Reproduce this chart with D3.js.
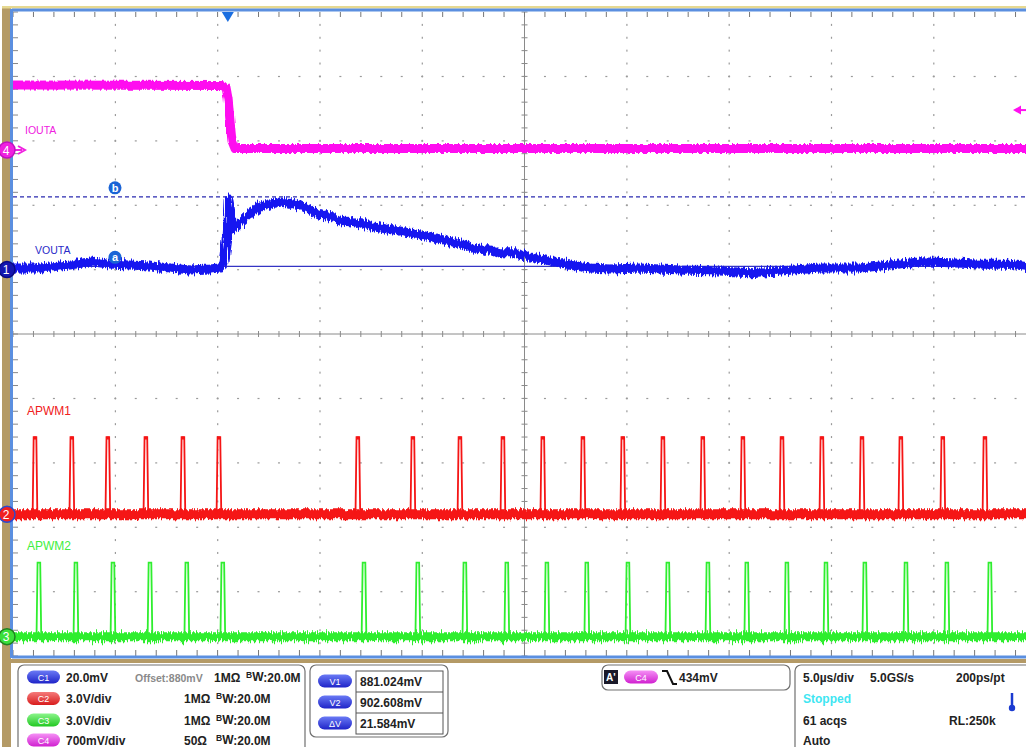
<!DOCTYPE html>
<html><head><meta charset="utf-8">
<script src="https://cdn.jsdelivr.net/npm/d3@7"></script>
<style>
html,body{margin:0;padding:0;background:#fff;}
svg{display:block;font-family:"Liberation Sans",Arial,sans-serif;}
</style></head>
<body><svg id="c" width="1026" height="747"></svg>
<script>
// ---------- DATA ----------
// time in µs from left edge of screen (5 µs/div, 10 div)
const timeDomain = [0, 50];
const triggerTime = 10.5;

// VOUTA (channel 1), mV
const voutaT  = [0,1.32,2.79,3.76,4.74,5.72,6.69,7.67,8.65,9.63,10.12,10.31,10.46,10.56,10.65,10.75,10.95,11.34,12.07,13.05,14.03,15.00,15.98,16.96,17.94,18.91,19.89,20.87,21.85,22.83,23.80,24.54,25.27,26.25,27.23,28.20,29.18,30.65,32.60,34.56,36.02,37.49,39.44,41.40,42.86,44.33,45.80,47.26,48.73,50.00];
const voutaMV = [880.5,880.5,881.4,882.4,881.7,881.4,881.1,880.5,879.9,880.2,880.5,882.4,889.2,901.6,898.5,892.6,893.8,896.0,899.8,901.0,900.1,897.3,895.4,894.2,892.9,892.0,890.8,889.5,888.0,886.4,885.2,885.2,883.9,882.7,881.4,880.5,880.2,880.5,879.9,879.6,879.0,879.6,880.5,880.5,881.4,882.4,882.1,881.7,881.7,880.5];

// IOUTA (channel 4), mV
const ioutaT  = [0, 10.21, 10.41, 10.51, 10.60, 10.70, 10.85, 50];
const ioutaMV = [706, 702, 680, 560, 330, 100, 15, 15];

// APWM1 (channel 2) pulse centres (µs) and high level (V)
const apwm1PulseT = [1.08,2.88,4.64,6.50,8.31,10.07,16.86,19.55,21.85,23.95,25.90,27.86,29.81,31.77,33.72,35.68,37.59,39.54,41.50,43.40,45.45,47.51];
const apwm1High = 3.6;
// APWM2 (channel 3)
const apwm2PulseT = [1.27,3.08,4.89,6.70,8.50,10.26,17.16,19.79,22.09,24.14,26.10,28.05,30.06,32.01,33.97,35.87,37.83,39.74,41.64,43.65,45.65,47.75];
const apwm2High = 3.45;

// cursors (ch1, mV) and trigger level (ch4, mV)
const cursorA = 881.024, cursorB = 902.608, trigLevel = 434;

// channel settings: units per div, value at screen centre
const chNames   = ["C1","C2","C3","C4"];
const chPerDiv  = [20, 3.0, 3.0, 700];
const chCenter  = [860, 8.4, 14.1, -2000];

// info panel texts
const chRows = [
  {pill:"C1", scale:"20.0mV", offset:"Offset:880mV", imp:"1MΩ", bw:"W:20.0M"},
  {pill:"C2", scale:"3.0V/div", offset:"", imp:"1MΩ", bw:"W:20.0M"},
  {pill:"C3", scale:"3.0V/div", offset:"", imp:"1MΩ", bw:"W:20.0M"},
  {pill:"C4", scale:"700mV/div", offset:"", imp:"50Ω", bw:"W:20.0M"}
];
const cursorLabels = ["V1","V2","ΔV"];
const cursorValues = ["881.024mV","902.608mV","21.584mV"];
const trigText = "434mV";
const timebase = ["5.0µs/div","5.0GS/s","200ps/pt"];
const acqStatus = ["Stopped","61 acqs","RL:250k","Auto"];

// ---------- DRAW ----------
const svg = d3.select("#c");
const X0 = 13, X1 = 1036, Y0 = 12, Y1 = 656;
const x = d3.scaleLinear().domain(timeDomain).range([X0, X1]);
const yDiv = d3.scaleLinear().domain([-5, 5]).range([Y1, Y0]);
const yCh = (ch, v) => yDiv((v - chCenter[ch]) / chPerDiv[ch]);

const defs = svg.append("defs");
const mkNoise = (id, freq, scale, seed) => {
  const f = defs.append("filter").attr("id", id).attr("filterUnits","userSpaceOnUse")
    .attr("x",0).attr("y",0).attr("width",1026).attr("height",747);
  f.append("feTurbulence").attr("type","fractalNoise").attr("baseFrequency",freq)
    .attr("numOctaves",2).attr("seed",seed).attr("result","n");
  f.append("feDisplacementMap").attr("in","SourceGraphic").attr("in2","n")
    .attr("scale",scale).attr("xChannelSelector","G").attr("yChannelSelector","R");
};
mkNoise("nz1","0.7 0.03",9,3);
mkNoise("nz2","0.6 0.03",7,7);
mkNoise("nz3","0.8 0.03",11,11);
mkNoise("nz4","0.5 0.03",4,5);
defs.append("clipPath").attr("id","plotclip").append("rect")
  .attr("x",X0).attr("y",Y0).attr("width",X1-X0).attr("height",Y1-Y0);
const pillGrad = (id, c1, c2) => {
  const g = defs.append("linearGradient").attr("id",id).attr("x1",0).attr("y1",0).attr("x2",0).attr("y2",1);
  g.append("stop").attr("offset","0%").attr("stop-color",c1);
  g.append("stop").attr("offset","100%").attr("stop-color",c2);
};
pillGrad("gC1","#6a7af5","#1f24c8");
pillGrad("gC2","#f57a7a","#d81c1c");
pillGrad("gC3","#8af58a","#22c822");
pillGrad("gC4","#f590f5","#d020d0");

// frame decoration
svg.append("rect").attr("x",2).attr("y",6).attr("width",9).attr("height",741).attr("fill","#b49a66");
svg.append("rect").attr("x",2).attr("y",6).attr("width",1024).attr("height",2.5).attr("fill","#e6d890");
svg.append("rect").attr("x",X0).attr("y",Y0).attr("width",X1-X0).attr("height",Y1-Y0).attr("fill","#fff");

// grid
const grid = svg.append("g");
const minorX = d3.range(0, 50.001, 1);      // 5 minor per div (1 µs)
const minorY = d3.range(-5, 5.001, 0.2);
const majorX = d3.range(5, 50, 5).filter(t => t !== 25);
const majorY = d3.range(-4, 5, 1).filter(v => v !== 0);
majorX.forEach(t => {
  grid.selectAll(null).data(minorY.slice(1,-1)).enter().append("rect")
    .attr("x", x(t)-0.5).attr("y", d => yDiv(d)-1).attr("width",1.2).attr("height",2)
    .attr("fill","#9a9a9a");
});
majorY.forEach(v => {
  grid.selectAll(null).data(minorX.slice(1,-1)).enter().append("rect")
    .attr("x", d => x(d)-1).attr("y", yDiv(v)-0.5).attr("width",2).attr("height",1.2)
    .attr("fill","#9a9a9a");
});
// centre cross
grid.append("line").attr("x1",x(25)).attr("x2",x(25)).attr("y1",Y0).attr("y2",Y1).attr("stroke","#8a8a8a").attr("stroke-width",1);
grid.append("line").attr("x1",X0).attr("x2",X1).attr("y1",yDiv(0)).attr("y2",yDiv(0)).attr("stroke","#8a8a8a").attr("stroke-width",1);
grid.selectAll(null).data(minorY).enter().append("line")
  .attr("x1",x(25)-3).attr("x2",x(25)+3).attr("y1",d=>yDiv(d)).attr("y2",d=>yDiv(d)).attr("stroke","#8a8a8a");
grid.selectAll(null).data(minorX).enter().append("line")
  .attr("y1",yDiv(0)-3).attr("y2",yDiv(0)+3).attr("x1",d=>x(d)).attr("x2",d=>x(d)).attr("stroke","#8a8a8a");
// border ticks
grid.selectAll(null).data(minorX).enter().append("line")
  .attr("x1",d=>x(d)).attr("x2",d=>x(d)).attr("y1",Y0).attr("y2",Y0+5).attr("stroke","#777");
grid.selectAll(null).data(minorX).enter().append("line")
  .attr("x1",d=>x(d)).attr("x2",d=>x(d)).attr("y1",Y1-6).attr("y2",Y1).attr("stroke","#777");
grid.selectAll(null).data(minorY).enter().append("line")
  .attr("x1",X0).attr("x2",X0+5).attr("y1",d=>yDiv(d)).attr("y2",d=>yDiv(d)).attr("stroke","#888");

// border lines
svg.append("line").attr("x1",X0-1).attr("x2",1026).attr("y1",Y0-2).attr("y2",Y0-2).attr("stroke","#5b8fe0").attr("stroke-width",3);
svg.append("line").attr("x1",X0-1.5).attr("x2",X0-1.5).attr("y1",Y0-3).attr("y2",Y1+2).attr("stroke","#5b8fe0").attr("stroke-width",3);
svg.append("line").attr("x1",X0-1).attr("x2",1026).attr("y1",Y1+1).attr("y2",Y1+1).attr("stroke","#5b8fe0").attr("stroke-width",3);

// cursors
const plot = svg.append("g").attr("clip-path","url(#plotclip)");
plot.append("line").attr("x1",X0).attr("x2",X1).attr("y1",yCh(0,cursorB)).attr("y2",yCh(0,cursorB))
  .attr("stroke","#2a2ab0").attr("stroke-width",1.2).attr("stroke-dasharray","4,3");
plot.append("line").attr("x1",X0).attr("x2",X1).attr("y1",yCh(0,cursorA)).attr("y2",yCh(0,cursorA))
  .attr("stroke","#3434c4").attr("stroke-width",1.3);

// traces
const line = d3.line();
// APWM2 (green)
plot.append("g").attr("filter","url(#nz3)").append("line").attr("x1",X0).attr("x2",X1).attr("y1",yCh(2,0)).attr("y2",yCh(2,0))
  .attr("stroke","#2fee2f").attr("stroke-width",9);
const pulsePath = (ch, t, hi) => line([
  [x(t-0.12), yCh(ch,0)], [x(t-0.07), yCh(ch,hi)], [x(t+0.06), yCh(ch,hi)], [x(t+0.11), yCh(ch,0)]
]);
plot.selectAll(null).data(apwm2PulseT).enter().append("path")
  .attr("d", t => pulsePath(2,t,apwm2High)).attr("fill","none").attr("stroke","#2fee2f").attr("stroke-width",1.8);
// APWM1 (red)
plot.append("g").attr("filter","url(#nz2)").append("line").attr("x1",X0).attr("x2",X1).attr("y1",yCh(1,0)).attr("y2",yCh(1,0))
  .attr("stroke","#f51515").attr("stroke-width",10);
plot.selectAll(null).data(apwm1PulseT).enter().append("path")
  .attr("d", t => pulsePath(1,t,apwm1High)).attr("fill","none").attr("stroke","#f51515").attr("stroke-width",1.8);
plot.selectAll(null).data(apwm1PulseT).enter().append("line")
  .attr("x1", t=>x(t-0.07)).attr("x2", t=>x(t+0.06)).attr("y1", yCh(1,apwm1High)+1).attr("y2", yCh(1,apwm1High)+1)
  .attr("stroke","#f51515").attr("stroke-width",3);
// VOUTA (blue)
plot.append("g").attr("filter","url(#nz1)").append("path")
  .attr("d", line(voutaT.map((t,i)=>[x(t), yCh(0, voutaMV[i])])))
  .attr("fill","none").attr("stroke","#1717f0").attr("stroke-width",9).attr("stroke-linejoin","round");
// IOUTA (magenta)
plot.append("g").attr("filter","url(#nz4)").append("path")
  .attr("d", line(ioutaT.map((t,i)=>[x(t), yCh(3, ioutaMV[i])])))
  .attr("fill","none").attr("stroke","#ff10f0").attr("stroke-width",9).attr("stroke-linejoin","round");

// trace labels
const lbl = (txt, xx, yy, col, fs) => svg.append("text").attr("x",xx).attr("y",yy).text(txt)
  .attr("fill",col).attr("font-size",fs);
lbl("IOUTA", 25, 134, "#f020e0", 10.5);
lbl("VOUTA", 35, 254, "#2a2ac8", 10.5);
lbl("APWM1", 27, 415, "#f02020", 12);
lbl("APWM2", 27, 550, "#40ee40", 12);

// cursor letter markers
[[cursorB,"b"],[cursorA,"a"]].forEach(([v,l]) => {
  const cy = yCh(0,v) - 9;
  svg.append("circle").attr("cx",115).attr("cy",cy).attr("r",6.5).attr("fill","#1a64d6");
  svg.append("text").attr("x",115).attr("y",cy+3.8).attr("text-anchor","middle").attr("fill","#fff")
    .attr("font-size",11).attr("font-weight","bold").text(l);
});

// trigger markers
const tx = x(triggerTime);
svg.append("path").attr("d",`M${tx-6},${Y0}L${tx+6},${Y0}L${tx},${Y0+10}Z`).attr("fill","#1a6ee0");
const ty = yCh(3, trigLevel);
svg.append("path").attr("d",`M1013,${ty}L1021,${ty-4.5}L1021,${ty+4.5}Z`).attr("fill","#ff10f0");
svg.append("line").attr("x1",1020).attr("x2",1026).attr("y1",ty).attr("y2",ty).attr("stroke","#ff10f0").attr("stroke-width",2);

// channel ground markers
const chMark = (num, yy, fill, stroke, arrow) => {
  const g = svg.append("g");
  if (arrow) {
    g.append("line").attr("x1",10).attr("x2",22).attr("y1",yy).attr("y2",yy).attr("stroke",fill).attr("stroke-width",2);
    g.append("path").attr("d",`M18,${yy-4}L25,${yy}L18,${yy+4}`).attr("fill","none").attr("stroke",fill).attr("stroke-width",2);
  }
  g.append("circle").attr("cx",7).attr("cy",yy).attr("r",8).attr("fill",fill).attr("stroke",stroke).attr("stroke-width",1.5);
  g.append("text").attr("x",6).attr("y",yy+4.5).attr("text-anchor","middle").attr("fill","#fff")
    .attr("font-size",12).text(num);
};
chMark("4", yCh(3,0), "#f020e0", "#c010c0", true);
chMark("1", yCh(0,880), "#1515b0", "#0a0a80", false);
chMark("2", yCh(1,0), "#f02020", "#2a4ad0", false);
chMark("3", yCh(2,0), "#3ae03a", "#208020", false);

// ---------- info panel ----------
const P = svg.append("g").attr("font-weight","bold").attr("font-size",12).attr("fill","#222");
P.append("rect").attr("x",11).attr("y",659).attr("width",1015).attr("height",4).attr("fill","#b49a66");
const box = (bx,by,bw,bh) => P.append("rect").attr("x",bx).attr("y",by).attr("width",bw).attr("height",bh)
  .attr("rx",6).attr("fill","#fff").attr("stroke","#707070").attr("stroke-width",1.2);
box(18,665,287,100); box(310,665,138,72); box(602,665,188,25); box(795,665,260,100);
const pill = (px, py, w, grad, txt) => {
  P.append("rect").attr("x",px).attr("y",py-6.5).attr("width",w).attr("height",13).attr("rx",6.5).attr("fill",`url(#${grad})`);
  P.append("text").attr("x",px+w/2).attr("y",py+3.5).attr("text-anchor","middle").attr("fill","#fff")
    .attr("font-size",9).attr("font-weight","normal").text(txt);
};
const rowY = [677, 698.5, 720, 740];
const impX = [214,184,184,184], bwX = [246,216,216,216];
chRows.forEach((r,i) => {
  pill(27, rowY[i], 33, "g"+r.pill, r.pill);
  P.append("text").attr("x",66).attr("y",rowY[i]+4.5).text(r.scale);
  if (r.offset) P.append("text").attr("x",135).attr("y",rowY[i]+4.5).attr("fill","#8a8a8a").attr("font-size",10.5).text(r.offset);
  P.append("text").attr("x",impX[i]).attr("y",rowY[i]+4.5).text(r.imp);
  const t = P.append("text").attr("x",bwX[i]).attr("y",rowY[i]+4.5);
  t.append("tspan").attr("font-size",8.5).attr("dy",-4).text("B");
  t.append("tspan").attr("dy",3.5).text(r.bw.slice(0,1));
  t.append("tspan").attr("dy",0.5).text(r.bw.slice(1));
});
// cursor table
const cy0 = [681, 702, 723];
P.append("rect").attr("x",356).attr("y",671).attr("width",87).attr("height",63).attr("fill","none").attr("stroke","#555").attr("stroke-width",1);
[692,713].forEach(ly => P.append("line").attr("x1",356).attr("x2",443).attr("y1",ly).attr("y2",ly).attr("stroke","#555"));
cursorLabels.forEach((l,i) => {
  pill(318, cy0[i], 34, "gC1", l);
  P.append("text").attr("x",360).attr("y",cy0[i]+4.5).text(cursorValues[i]);
});
// trigger box
P.append("rect").attr("x",604).attr("y",670).attr("width",14).attr("height",14).attr("fill","#1a1a2a");
P.append("text").attr("x",606).attr("y",681).attr("fill","#fff").attr("font-size",10).text("A'");
pill(624, 677, 34, "gC4", "C4");
P.append("path").attr("d","M662,671L667,671L673,684L677,684").attr("fill","none").attr("stroke","#111").attr("stroke-width",2);
P.append("text").attr("x",679).attr("y",681.5).text(trigText);
// timebase box
P.append("text").attr("x",803).attr("y",681.5).text(timebase[0]);
P.append("text").attr("x",870).attr("y",681.5).text(timebase[1]);
P.append("text").attr("x",956).attr("y",681.5).text(timebase[2]);
P.append("text").attr("x",803).attr("y",703).attr("fill","#40e6f2").text(acqStatus[0]);
P.append("text").attr("x",803).attr("y",724.5).text(acqStatus[1]);
P.append("text").attr("x",949).attr("y",724.5).text(acqStatus[2]);
P.append("text").attr("x",803).attr("y",745).text(acqStatus[3]);
P.append("line").attr("x1",1012).attr("x2",1012).attr("y1",693).attr("y2",707).attr("stroke","#1a3ad0").attr("stroke-width",2.5);
P.append("circle").attr("cx",1012).attr("cy",708).attr("r",3.2).attr("fill","#1a3ad0");
</script></body></html>
